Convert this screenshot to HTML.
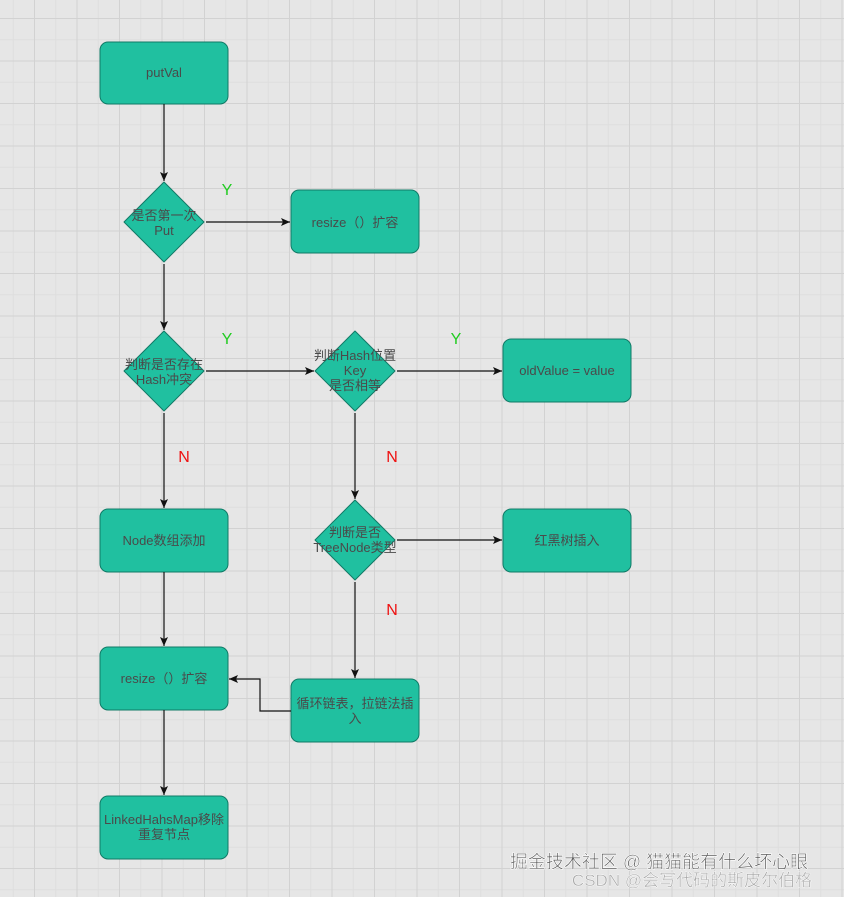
<!DOCTYPE html>
<html><head><meta charset="utf-8"><style>
body{margin:0;width:844px;height:897px;overflow:hidden;background:#e6e6e6;
background-image:linear-gradient(#d2d2d2 1px,transparent 1px),linear-gradient(90deg,#d2d2d2 1px,transparent 1px),linear-gradient(#dedede 1px,transparent 1px),linear-gradient(90deg,#dedede 1px,transparent 1px);background-size:42.5px 42.5px,42.5px 42.5px,21.25px 21.25px,21.25px 21.25px;background-position:34px 18px,34px 18px,34px 18px,34px 18px}
svg{position:absolute;left:0;top:0}
text{font-family:"Liberation Sans","Noto Sans CJK SC",sans-serif;font-size:13px;fill:#4a4a4a;text-anchor:middle}
</style></head><body>
<svg width="844" height="897" viewBox="0 0 844 897">
<defs><marker id="a" markerWidth="10" markerHeight="10" refX="9" refY="5" orient="auto" markerUnits="userSpaceOnUse"><path d="M0,1 L9,5 L0,9 L2,5z" fill="#111"/></marker></defs>
<g fill="#20c0a0" stroke="#107a66" stroke-width="1">
<rect x="100" y="42" width="128" height="62" rx="8"/>
<rect x="291" y="190" width="128" height="63" rx="8"/>
<rect x="503" y="339" width="128" height="63" rx="8"/>
<rect x="100" y="509" width="128" height="63" rx="8"/>
<rect x="503" y="509" width="128" height="63" rx="8"/>
<rect x="100" y="647" width="128" height="63" rx="8"/>
<rect x="291" y="679" width="128" height="63" rx="8"/>
<rect x="100" y="796" width="128" height="63" rx="8"/>
<path d="M164,182 L204,222 L164,262 L124,222Z" stroke-linejoin="round"/>
<path d="M164,331 L204,371 L164,411 L124,371Z" stroke-linejoin="round"/>
<path d="M355,331 L395,371 L355,411 L315,371Z" stroke-linejoin="round"/>
<path d="M355,500 L395,540 L355,580 L315,540Z" stroke-linejoin="round"/>
</g>
<g stroke="#111" stroke-width="1.2" fill="none" marker-end="url(#a)">
<path d="M164,104V181"/><path d="M206,222H290"/><path d="M164,264V330"/>
<path d="M206,371H314"/><path d="M397,371H502"/><path d="M164,413V508"/>
<path d="M355,413V499"/><path d="M397,540H502"/><path d="M355,582V678"/>
<path d="M291,711H260V679H229"/><path d="M164,572V646"/><path d="M164,710V795"/>
</g>
<text x="164" y="77">putVal</text>
<text x="164" y="220">是否第一次</text><text x="164" y="235">Put</text>
<text x="355" y="227">resize（）扩容</text>
<text x="164" y="369">判断是否存在</text><text x="164" y="384">Hash冲突</text>
<text x="355" y="360">判断Hash位置</text><text x="355" y="375">Key</text><text x="355" y="390">是否相等</text>
<text x="567" y="375">oldValue = value</text>
<text x="164" y="545">Node数组添加</text>
<text x="355" y="537">判断是否</text><text x="355" y="552">TreeNode类型</text>
<text x="567" y="545">红黑树插入</text>
<text x="164" y="683">resize（）扩容</text>
<text x="355" y="708">循环链表，拉链法插</text><text x="355" y="723">入</text>
<text x="164" y="824">LinkedHahsMap移除</text><text x="164" y="839">重复节点</text>
<text x="227" y="195" style="fill:#22cc22;font-size:16px">Y</text>
<text x="227" y="344" style="fill:#22cc22;font-size:16px">Y</text>
<text x="456" y="344" style="fill:#22cc22;font-size:16px">Y</text>
<text x="184" y="462" style="fill:#ee1111;font-size:16px">N</text>
<text x="392" y="462" style="fill:#ee1111;font-size:16px">N</text>
<text x="392" y="615" style="fill:#ee1111;font-size:16px">N</text>
<text x="659" y="868" style="font-size:18px;fill:#555;stroke:#fff;stroke-width:0.6">掘金技术社区 @ 猫猫能有什么坏心眼</text>
<text x="692" y="886" style="font-size:17px;fill:#aaa;stroke:#fff;stroke-width:0.4">CSDN @会写代码的斯皮尔伯格</text>
</svg>
</body></html>
